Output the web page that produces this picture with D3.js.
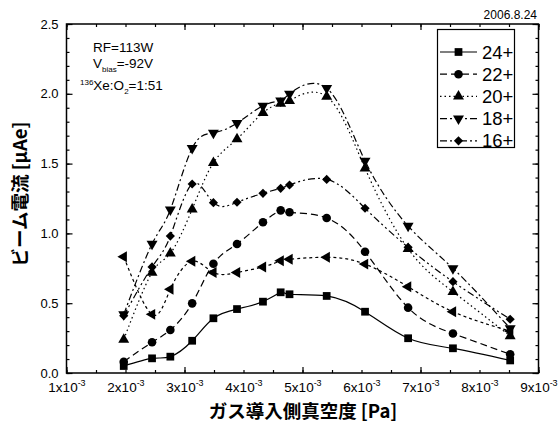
<!DOCTYPE html>
<html>
<head>
<meta charset="utf-8">
<script src="https://cdn.jsdelivr.net/npm/d3@7"></script>
<style>
body { margin: 0; background: #fff; }
svg { display: block; font-family: "Liberation Sans", Arial, sans-serif; }
.jp { font-family: "Noto Sans CJK JP", sans-serif; font-weight: bold; }
.axis .domain { display: none; }
.axis line { stroke: #000; stroke-width: 1.2; }
</style>
</head>
<body>
<svg id="chart" width="559" height="429"></svg>
<script>
// pressure on the gas inlet side, in units of 1e-3 Pa
var pressure = [1.97, 2.45, 2.76, 3.13, 3.49, 3.89, 4.33, 4.63, 4.78, 5.41, 6.06, 6.79, 7.55, 8.52];

// beam current [uAe] for each charge state
var ion24 = [0.05, 0.105, 0.117, 0.231, 0.392, 0.458, 0.511, 0.578, 0.564, 0.552, 0.439, 0.249, 0.177, 0.09];
var ion22 = [0.081, 0.22, 0.308, 0.499, 0.783, 0.924, 1.08, 1.165, 1.151, 1.11, 0.869, 0.468, 0.283, 0.134];
var ion20 = [0.24, 0.72, 0.857, 1.173, 1.506, 1.676, 1.864, 1.93, 1.95, 1.98, 1.466, 0.89, 0.582, 0.265];
var ion18 = [0.42, 0.924, 1.17, 1.61, 1.72, 1.79, 1.914, 1.95, 2.0, 2.04, 1.52, 1.053, 0.75, 0.32];
var ion16 = [0.41, 0.76, 0.981, 1.354, 1.22, 1.223, 1.287, 1.323, 1.347, 1.387, 1.18, 0.90, 0.654, 0.385];
// extra series drawn without a legend entry
var ionExtra = [0.833, 0.42, 0.60, 0.80, 0.72, 0.72, 0.76, 0.804, 0.815, 0.829, 0.78, 0.618, 0.439, 0.30];

var legendLabels = ['24+', '22+', '20+', '18+', '16+'];
var xTickLabels = ['1', '2', '3', '4', '5', '6', '7', '8', '9'];
var yTickValues = [0, 0.5, 1.0, 1.5, 2.0, 2.5];

var svg = d3.select('#chart');
var padding = {t: 24, r: 20.5, b: 56, l: 66.5};
var width = 559, height = 429;

var x = d3.scaleLinear().domain([1, 9]).range([padding.l, width - padding.r]);
var y = d3.scaleLinear().domain([0, 2.5]).range([height - padding.b, padding.t]);

// series styles
var series = [
    {name: legendLabels[0], values: ion24, dash: null, symbol: d3.symbolSquare, size: 60, rot: 0},
    {name: legendLabels[1], values: ion22, dash: '7,4', symbol: d3.symbolCircle, size: 58, rot: 0},
    {name: legendLabels[2], values: ion20, dash: '1.5,3', symbol: d3.symbolTriangle, size: 52, rot: 0},
    {name: legendLabels[3], values: ion18, dash: '7,3,2,3', symbol: d3.symbolTriangle, size: 52, rot: 180},
    {name: legendLabels[4], values: ion16, dash: '7,3,2,3,2,3', symbol: d3.symbolSquare, size: 42, rot: 45},
    {name: null, values: ionExtra, dash: '3,3', symbol: d3.symbolTriangle, size: 52, rot: -90}
];

// axes ticks (inward on all four sides)
var minorX = d3.range(1, 9.01, 0.5);
var majorX = [1, 3, 5, 7, 9];
var minorY = d3.range(0, 2.501, 0.1);
var majorY = yTickValues;

function addTicks(axisFn, scale, vals, len, tr) {
    svg.append('g').attr('class', 'axis')
        .attr('transform', tr)
        .call(axisFn(scale).tickValues(vals).tickSize(-len).tickFormat(''));
}
var bottomTr = 'translate(0,' + y(0) + ')';
var topTr = 'translate(0,' + y(2.5) + ')';
var leftTr = 'translate(' + x(1) + ',0)';
var rightTr = 'translate(' + x(9) + ',0)';
addTicks(d3.axisBottom, x, minorX, 3, bottomTr);
addTicks(d3.axisBottom, x, majorX, 6, bottomTr);
addTicks(d3.axisTop, x, minorX, 3, topTr);
addTicks(d3.axisTop, x, majorX, 6, topTr);
addTicks(d3.axisLeft, y, minorY, 3, leftTr);
addTicks(d3.axisLeft, y, majorY, 6, leftTr);
addTicks(d3.axisRight, y, minorY, 3, rightTr);
addTicks(d3.axisRight, y, majorY, 6, rightTr);

// frame
svg.append('rect')
    .attr('x', x(1)).attr('y', y(2.5))
    .attr('width', x(9) - x(1)).attr('height', y(0) - y(2.5))
    .attr('fill', 'none').attr('stroke', '#000').attr('stroke-width', 1.5);

// y tick labels
var yAx = svg.append('g').attr('class', 'axis').attr('transform', leftTr)
    .call(d3.axisLeft(y).tickValues(yTickValues).tickSize(0).tickPadding(8).tickFormat(d3.format('.1f')));
yAx.selectAll('text').attr('font-size', 13).attr('fill', '#000')
    .attr('font-family', '"Liberation Sans", Arial, sans-serif');

// x tick labels: "Nx10^-3"
var xAx = svg.append('g').attr('class', 'axis').attr('transform', bottomTr)
    .call(d3.axisBottom(x).tickValues(d3.range(1, 10)).tickSize(0).tickPadding(9).tickFormat(''));
xAx.selectAll('.tick text').each(function(d, i) {
    var t = d3.select(this).attr('font-size', 13.5).attr('fill', '#000')
        .attr('font-family', '"Liberation Sans", Arial, sans-serif');
    t.append('tspan').text(xTickLabels[i] + 'x10');
    t.append('tspan').attr('font-size', 9).attr('dy', -6).text('-3');
});

// lines and markers
var line = d3.line()
    .x(function(d) { return x(d.p); })
    .y(function(d) { return y(d.v); })
    .curve(d3.curveNatural);

var plotG = svg.append('g');
series.forEach(function(s) {
    var pts = pressure.map(function(p, i) { return {p: p, v: s.values[i]}; });
    plotG.append('path')
        .attr('d', line(pts))
        .attr('fill', 'none')
        .attr('stroke', '#000')
        .attr('stroke-width', 1.2)
        .attr('stroke-dasharray', s.dash);
    plotG.selectAll(null)
        .data(pts)
        .enter()
        .append('path')
        .attr('d', d3.symbol().type(s.symbol).size(s.size))
        .attr('transform', function(d) {
            return 'translate(' + [x(d.p), y(d.v)] + ') rotate(' + s.rot + ')';
        })
        .attr('fill', '#000');
});

// legend
var lg = svg.append('g');
lg.append('rect')
    .attr('x', 437.5).attr('y', 29.5).attr('width', 77).attr('height', 118)
    .attr('fill', '#fff').attr('stroke', '#000').attr('stroke-width', 1.2);
series.slice(0, 5).forEach(function(s, i) {
    var ly = 52 + i * 22.2;
    lg.append('line')
        .attr('x1', 440).attr('x2', 477).attr('y1', ly).attr('y2', ly)
        .attr('stroke', '#000').attr('stroke-width', 1.2)
        .attr('stroke-dasharray', s.dash);
    lg.append('path')
        .attr('d', d3.symbol().type(s.symbol).size(s.size))
        .attr('transform', 'translate(' + [458.5, ly] + ') rotate(' + s.rot + ')')
        .attr('fill', '#000');
    lg.append('text')
        .attr('x', 482).attr('y', ly).attr('dy', '0.36em')
        .attr('font-size', 18.5)
        .text(s.name);
});

// annotations
svg.append('text').attr('x', 537).attr('y', 19).attr('text-anchor', 'end')
    .attr('font-size', 12).text('2006.8.24');

var ann = svg.append('g').attr('font-size', 13.5);
ann.append('text').attr('x', 93).attr('y', 52).text('RF=113W');
var vb = ann.append('text').attr('x', 93).attr('y', 68);
vb.append('tspan').text('V');
vb.append('tspan').attr('font-size', 8).attr('dy', 4).text('bias');
vb.append('tspan').attr('dy', -4).text('=-92V');
var xe = ann.append('text').attr('x', 80).attr('y', 90);
xe.append('tspan').attr('font-size', 8).attr('dy', -5).text('136');
xe.append('tspan').attr('dy', 5).text('Xe:O');
xe.append('tspan').attr('font-size', 8).attr('dy', 4).text('2');
xe.append('tspan').attr('dy', -4).text('=1:51');

// axis titles
svg.append('text').attr('class', 'jp')
    .attr('x', 303).attr('y', 418).attr('text-anchor', 'middle')
    .attr('font-size', 18.5)
    .text('ガス導入側真空度 [Pa]');
svg.append('text').attr('class', 'jp')
    .attr('transform', 'translate(27,194) rotate(-90)')
    .attr('text-anchor', 'middle')
    .attr('font-size', 18.5)
    .text('ビーム電流 [μAe]');
</script>
</body>
</html>
